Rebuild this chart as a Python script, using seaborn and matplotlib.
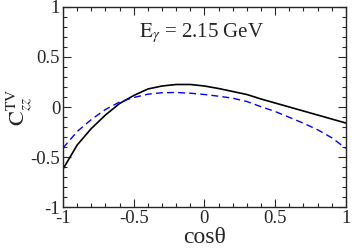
import pandas as pd
import matplotlib
matplotlib.use('Agg')
import matplotlib.pyplot as plt
import seaborn as sns
from matplotlib.ticker import MultipleLocator

# Valores
cos_theta = [-1.0, -0.9, -0.8, -0.7, -0.6, -0.5, -0.4, -0.3, -0.2, -0.1, 0.0,
             0.1, 0.2, 0.3, 0.4, 0.5, 0.6, 0.7, 0.8, 0.9, 1.0]
czz_solid = [-0.62, -0.38, -0.215, -0.08, 0.035, 0.115, 0.18, 0.21, 0.225, 0.225, 0.21,
             0.185, 0.155, 0.125, 0.08, 0.04, 0.0, -0.04, -0.08, -0.12, -0.16]
czz_dashed = [-0.41, -0.245, -0.125, -0.025, 0.05, 0.095, 0.128, 0.143, 0.145, 0.138, 0.125,
              0.108, 0.088, 0.055, 0.003, -0.045, -0.103, -0.162, -0.227, -0.307, -0.413]

sns.set_style('ticks')
plt.rcParams['font.family'] = ['Liberation Serif', 'DejaVu Serif']
plt.rcParams['mathtext.fontset'] = 'stix'

df = pd.DataFrame({'cos': cos_theta, 'solid': czz_solid, 'dashed': czz_dashed})

fig = plt.figure(figsize=(3.54, 2.48), dpi=100)
ax = fig.add_axes([0.178, 0.165, 0.799, 0.807])

sns.lineplot(data=df, x='cos', y='solid', color='black', lw=1.2, ax=ax)
sns.lineplot(data=df, x='cos', y='dashed', color='#0000ff', lw=1.0, ax=ax,
             linestyle=(0, (5, 3)))

ax.set_xlim(-1, 1)
ax.set_ylim(-1, 1)
ax.xaxis.set_major_locator(MultipleLocator(0.5))
ax.xaxis.set_minor_locator(MultipleLocator(0.1))
ax.yaxis.set_major_locator(MultipleLocator(0.5))
ax.yaxis.set_minor_locator(MultipleLocator(0.1))
ax.xaxis.set_major_formatter(plt.FuncFormatter(lambda v, p: f'{v:g}'))
ax.yaxis.set_major_formatter(plt.FuncFormatter(lambda v, p: f'{v:g}'))
ax.tick_params(which='both', direction='in', top=True, right=True, labelsize=13.5, width=0.8)
ax.tick_params(which='major', length=6, pad=2)
ax.tick_params(which='minor', length=3)
for s in ax.spines.values():
    s.set_linewidth(1.0)

ax.set_xlabel('cosθ', fontsize=17, labelpad=0)
ax.set_ylabel(r'$\mathrm{C}^{\mathrm{TV}}_{zz}$', fontsize=16)
ax.yaxis.set_label_coords(-0.1, 0.5)
ax.text(-0.46, 0.74, r'$\mathrm{E}_{\gamma}$ = 2.15 GeV', fontsize=15, va='center', ha='left')

plt.savefig('out.png', dpi=100)
plt.close()
